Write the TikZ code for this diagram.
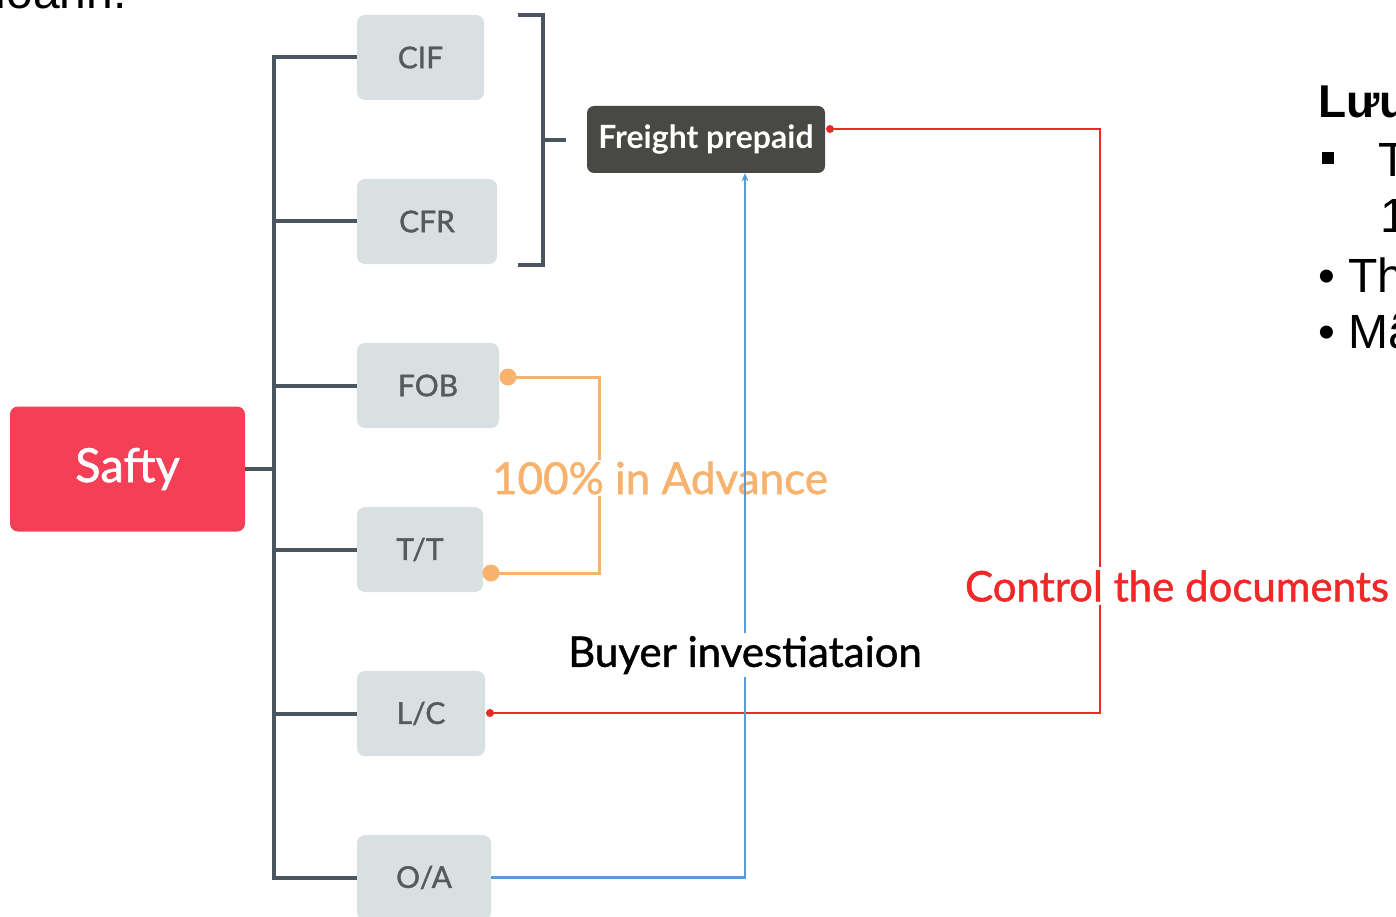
\documentclass[tikz,border=0pt]{standalone}
\usepackage{fontspec}
\setmainfont{Lato}
\newfontfamily\medfont{Lato}[FakeBold=1.2]
\newfontfamily\arialfont{Liberation Sans}
\usetikzlibrary{arrows.meta}

\definecolor{trunkgray}{RGB}{74,85,96}
\definecolor{saftyred}{RGB}{244,63,86}
\definecolor{boxfill}{RGB}{217,224,226}
\definecolor{boxtext}{RGB}{85,90,92}
\definecolor{darkbox}{RGB}{72,72,68}
\definecolor{linkred}{RGB}{240,40,40}
\definecolor{linkblue}{RGB}{91,155,213}
\definecolor{linkorange}{RGB}{247,178,110}

\tikzset{
  term/.style={rectangle, rounded corners=8pt, fill=boxfill, text=boxtext,
    font=\medfont\fontsize{30}{36}\selectfont, minimum height=85pt, inner sep=0pt},
  trunk/.style={draw=trunkgray, line width=4pt},
  orangelink/.style={draw=linkorange, line width=3pt},
  redlink/.style={draw=linkred, line width=2.2pt},
  bluelink/.style={draw=linkblue, line width=2.5pt},
  linklabel/.style={fill=white, inner sep=2pt},
  sidetext/.style={anchor=base west, inner sep=0pt, font=\arialfont\fontsize{48}{57}\selectfont}
}

\begin{document}
\begin{tikzpicture}[x=1pt, y=-1pt]
  \useasboundingbox (0,0) rectangle (1396,917);
  \clip (0,0) rectangle (1396,917);

  % root node
  \node[rectangle, rounded corners=8pt, fill=saftyred, text=white,
        minimum width=235pt, minimum height=125pt, inner sep=0pt,
        font=\medfont\fontsize{47}{56}\selectfont] (safty) at (127.5,469) {Safty};

  % incoterms and payment terms
  \node[term, minimum width=127pt] (cif) at (420.5,57.5)  {CIF};
  \node[term, minimum width=140pt] (cfr) at (427,221.5)   {CFR};
  \node[term, minimum width=142pt] (fob) at (428,385.5)   {FOB};
  \node[term, minimum width=126pt] (tt)  at (420,549.5)   {T/T};
  \node[term, minimum width=128pt] (lc)  at (421,713.5)   {L/C};
  \node[term, minimum width=134pt] (oa)  at (424,877.5)   {O/A};

  \node[rectangle, rounded corners=7pt, fill=darkbox, text=white,
        minimum width=238pt, minimum height=67pt, inner sep=0pt,
        font=\bfseries\fontsize{32}{38}\selectfont] (freight) at (706,139.5) {Freight prepaid};

  % tree connectors
  \draw[trunk] (cif.west) -- ++(-83,0) |- (oa.west);
  \draw[trunk] (cfr.west) -- ++(-83,0);
  \draw[trunk] (fob.west) -- ++(-83,0);
  \draw[trunk] (tt.west)  -- ++(-83,0);
  \draw[trunk] (lc.west)  -- ++(-83,0);
  \draw[trunk] (safty.east) -- ++(29,0);

  % bracket grouping CIF and CFR
  \coordinate (brTop) at (518,15);
  \coordinate (brBot) at (518,265);
  \coordinate (brStub) at (566,140);
  \draw[trunk] (brTop) -- (543,15) -- (543,265) -- (brBot);
  \draw[trunk] (543,140) -- (brStub);

  % FOB / T/T link
  \coordinate (fobDot) at (508,377);
  \coordinate (ttDot) at (491,573);
  \draw[orangelink] (fobDot) -- (599,377) -- (599,573) -- (ttDot);
  \fill[linkorange] (fobDot) circle (8.5pt) (ttDot) circle (8.5pt);
  \node[linklabel, text=linkorange, font=\medfont\fontsize{44}{52}\selectfont] (adv) at (660,478) {100\% in Advance};

  % L/C to Freight prepaid
  \coordinate (frDot) at (830,129);
  \coordinate (lcDot) at (490,713);
  \draw[redlink] (frDot) -- (1100,129) -- (1100,713) -- (lcDot);
  \fill[linkred] (frDot) circle (4pt) (lcDot) circle (4pt);
  \node[linklabel, text=linkred, font=\medfont\fontsize{42}{50}\selectfont, inner sep=3pt] (ctrl) at (1177,586) {Control the documents};

  % O/A to Freight prepaid
  \coordinate (oaTurn) at (745,877.5);
  \draw[bluelink, -{Stealth[length=8pt,width=7pt]}] (oa.east) -- (oaTurn) -- (oaTurn |- freight.south);
  \node[linklabel, text=black, font=\medfont\fontsize{42}{50}\selectfont, inner sep=3pt] (buyer) at (745,655) {Buyer investiataion};

  % surrounding slide text
  \node[anchor=base east, inner sep=0pt, font=\arialfont\fontsize{48}{57}\selectfont] (prev) at (127,9) {kinh doanh.};
  \node[sidetext, font=\arialfont\bfseries\fontsize{46}{55}\selectfont] (luu) at (1318,118) {Lưu ý};
  \node[fill=black, minimum size=12pt, inner sep=0pt] (sq) at (1328,158) {};
  \node[sidetext] (l1) at (1378,177) {T};
  \node[sidetext] (l2) at (1380,233) {1};
  \node[sidetext] (l3) at (1318,292) {• Th};
  \node[sidetext] (l4) at (1318,348) {• Mã};
\end{tikzpicture}
\end{document}
